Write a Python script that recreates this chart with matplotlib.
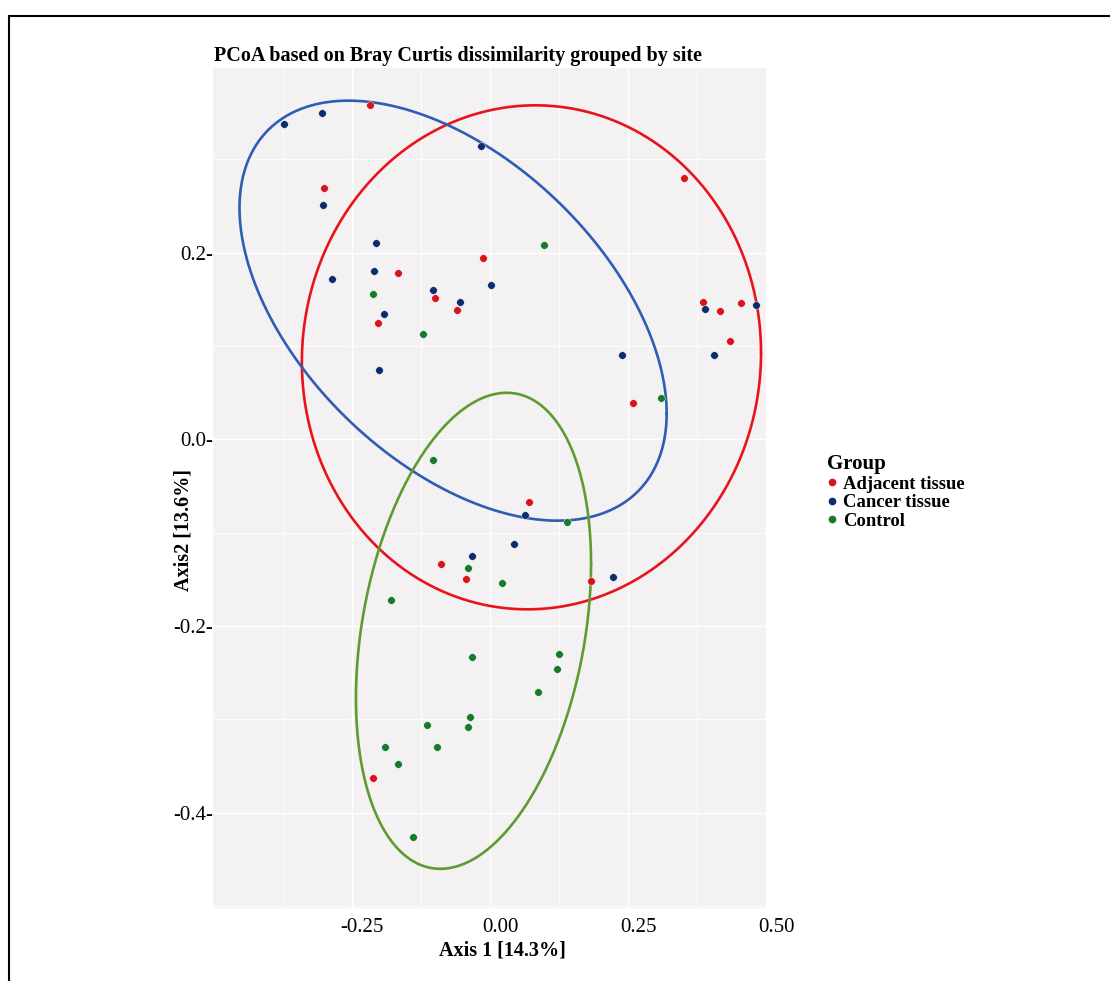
import numpy as np
import matplotlib
matplotlib.use("Agg")
import matplotlib.pyplot as plt
import matplotlib.transforms as mtransforms
from matplotlib.lines import Line2D

# PCoA coordinates
adj_x = [-0.218, -0.300, -0.167, -0.013, -0.099, -0.203, -0.059, 0.352, 0.385,
         0.417, 0.455, 0.435, 0.259, 0.070, -0.089, -0.044, 0.182, -0.212]
adj_y = [0.358, 0.269, 0.178, 0.194, 0.152, 0.125, 0.139, 0.280, 0.147,
         0.138, 0.146, 0.106, 0.039, -0.067, -0.133, -0.150, -0.152, -0.363]

can_x = [-0.374, -0.305, -0.302, -0.017, -0.287, -0.206, -0.210, -0.192, -0.104,
         -0.055, 0.002, -0.201, 0.239, 0.389, 0.481, 0.406, 0.064, 0.043,
         -0.033, 0.222]
can_y = [0.338, 0.350, 0.251, 0.314, 0.172, 0.210, 0.180, 0.134, 0.160,
         0.147, 0.165, 0.074, 0.090, 0.140, 0.144, 0.090, -0.081, -0.112,
         -0.125, -0.147]

ctl_x = [0.098, -0.212, -0.122, 0.310, -0.104, 0.140, -0.040, 0.022, -0.180,
         -0.033, 0.125, 0.122, 0.087, -0.115, -0.036, -0.040, -0.190, -0.096,
         -0.166, -0.140]
ctl_y = [0.208, 0.156, 0.113, 0.044, -0.022, -0.088, -0.138, -0.154, -0.172,
         -0.233, -0.230, -0.246, -0.271, -0.306, -0.297, -0.308, -0.329, -0.329,
         -0.348, -0.426]

groups = ["Adjacent tissue", "Cancer tissue", "Control"]
point_colors = ["#D7141E", "#0B2D6E", "#17792A"]
ellipse_colors = ["#E8141A", "#2E5DB4", "#5E9C32"]

# ellipse: centre, half ranges in x / y, phase (deg) giving the tilt
ell_cx = [0.075, -0.067, -0.030]
ell_cy = [0.088, 0.138, -0.205]
ell_a = [0.416, 0.387, 0.213]
ell_b = [0.270, 0.225, 0.255]
ell_phase = [89.0, 119.3, 73.6]

serif = ["Liberation Serif", "DejaVu Serif"]
plt.rcParams["font.family"] = serif

fig = plt.figure(figsize=(11.10, 9.81), dpi=100)
ax = fig.add_axes([0.1919, 0.0744, 0.4982, 0.8563])
ax.set_facecolor("#F3F1F2")
for s in ax.spines.values():
    s.set_visible(False)

t = np.linspace(0, 2 * np.pi, 400)
for i in range(3):
    ex = ell_cx[i] + ell_a[i] * np.cos(t)
    ey = ell_cy[i] + ell_b[i] * np.cos(t - np.radians(ell_phase[i]))
    ax.plot(ex, ey, color=ellipse_colors[i], lw=1.9, zorder=2,
            solid_capstyle="round", solid_joinstyle="round")

for xs, ys, c in zip([adj_x, can_x, ctl_x], [adj_y, can_y, ctl_y], point_colors):
    ax.scatter(xs, ys, s=30, color=c, edgecolors="white", linewidths=0.3, zorder=3)

ax.set_xlim(-0.502, 0.5)
ax.set_ylim(-0.502, 0.398)

ax.set_xticks([-0.25, 0.0, 0.25, 0.5])
ax.set_xticklabels(["-0.25", "0.00", "0.25", "0.50"])
ax.set_xticks([-0.375, -0.125, 0.125, 0.375], minor=True)
ax.set_yticks([-0.4, -0.2, 0.0, 0.2])
ax.set_yticklabels(["-0.4-", "-0.2-", "0.0-", "0.2-"])
ax.set_yticks([-0.5, -0.3, -0.1, 0.1, 0.3], minor=True)
ax.grid(True, which="major", color="white", lw=1.0, zorder=0)
ax.grid(True, which="minor", color="white", lw=0.6, zorder=0)
ax.set_axisbelow(True)
ax.tick_params(which="both", length=0)
ax.tick_params(axis="x", pad=7, labelsize=15)
ax.tick_params(axis="y", pad=0, labelsize=15)

offset = mtransforms.ScaledTranslation(10 / 100, 0, fig.dpi_scale_trans)
for lbl in ax.get_xticklabels():
    lbl.set_transform(lbl.get_transform() + offset)

ax.set_xlabel("Axis 1 [14.3%]", fontsize=14.5, fontweight="bold")
ax.xaxis.set_label_coords(0.523, -0.039)
ax.xaxis.label.set_va("top")
ax.set_ylabel("Axis2 [13.6%]", fontsize=14.5, fontweight="bold")
ax.yaxis.set_label_coords(-0.036, 0.45)

fig.text(0.193, 0.943, "PCoA based on Bray Curtis dissimilarity grouped by site",
         fontsize=14.5, fontweight="bold", va="center", ha="left")

handles = [Line2D([], [], marker="o", ls="none", color=c, markersize=4.5)
           for c in point_colors]
leg = fig.legend(handles, groups, loc="upper left",
                 bbox_to_anchor=(827 / 1110, 1 - 454 / 981),
                 frameon=False, borderpad=0, borderaxespad=0,
                 handlelength=0.5, handletextpad=0.35, labelspacing=0.08,
                 prop={"weight": "bold", "size": 13.4, "family": serif},
                 title="Group", alignment="left",
                 title_fontproperties={"weight": "bold", "size": 15, "family": serif})

# outer frame (left and top only)
fig.add_artist(Line2D([0.0081, 0.0081], [0.0, 0.9837], color="black", lw=1.5,
                      transform=fig.transFigure))
fig.add_artist(Line2D([0.0081, 1.0], [0.9837, 0.9837], color="black", lw=1.5,
                      transform=fig.transFigure))

fig.savefig("out.png", dpi=100)
